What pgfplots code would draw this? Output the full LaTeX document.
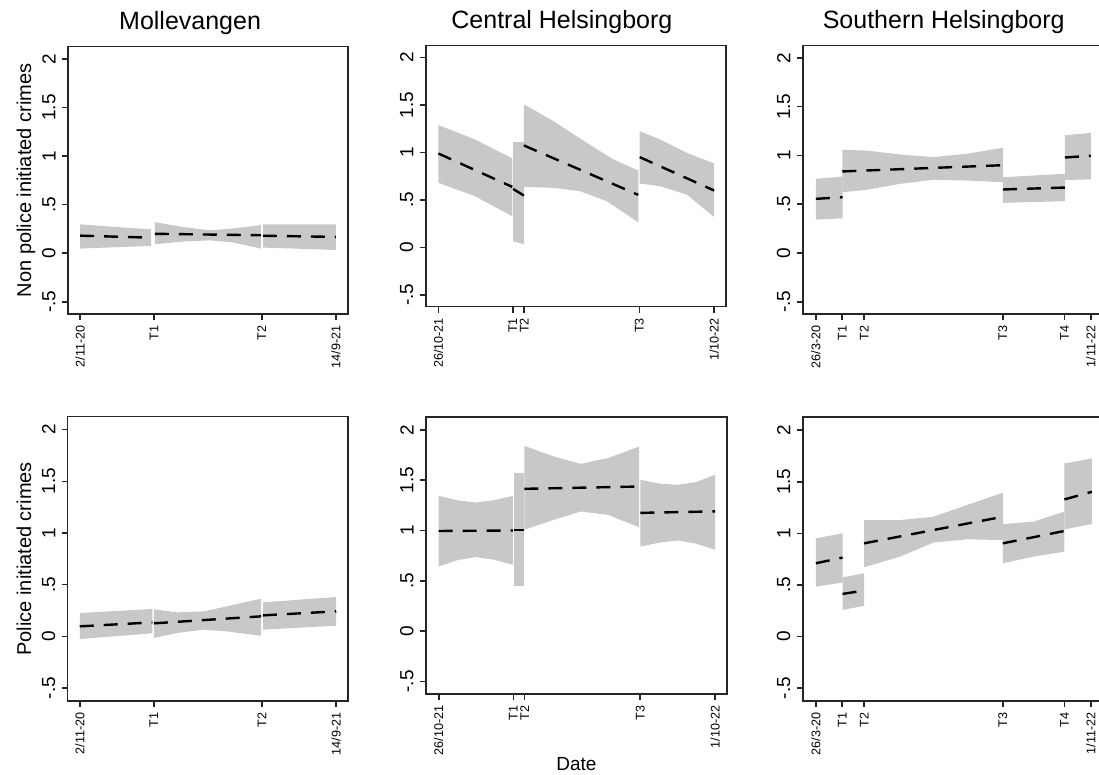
\documentclass[border=0pt]{standalone}
\usepackage{pgfplots}
\pgfplotsset{compat=1.18}
\usepackage{fontspec}
\setmainfont{Liberation Sans}
\definecolor{bandgray}{RGB}{200,200,200}
\pgfplotsset{
  panel/.style={
    scale only axis, anchor=south west,
    ymin=-0.625, ymax=2.125,
    ytick={-0.5,0,0.5,1,1.5,2},
    yticklabels={-.5,0,.5,1,1.5,2},
    tick align=outside, tickpos=left,
    major tick length=3pt,
    axis line style={black!85, line width=0.8pt},
    every tick/.style={black!85, line width=0.8pt},
    yticklabel shift=2pt, xticklabel shift=1.5pt,
    yticklabel style={rotate=90, anchor=south, font=\fontsize{9.5}{10}\selectfont, inner sep=1pt},
    xticklabel style={rotate=90, anchor=east, font=\fontsize{6.3}{7}\selectfont, inner sep=1pt},
    title style={anchor=base, font=\fontsize{12.5}{14}\selectfont, yshift=2.5pt},
    ylabel style={anchor=center, font=\fontsize{10}{12}\selectfont},
    axis on top,
    clip=false,
  },
  band/.style={fill=bandgray, draw=none},
  fit/.style={black, line width=1.2pt, dash pattern=on 7pt off 5pt},
}
\begin{document}
\begin{tikzpicture}
% ---------------- Top row: Non police initiated crimes ----------------
\begin{axis}[panel, at={(34pt,230.5pt)}, width=140pt, height=133.65pt,
  xmin=-4.7, xmax=104.7,
  xtick={0,28.9,71.0,100}, xticklabels={2/11-20,T1,T2,14/9-21},
  title={Mollevangen}, title style={at={(axis description cs:0.436,1)}},
  ylabel={Non police initiated crimes}, ylabel style={at={(axis description cs:-0.15,0.5)}}]
\addplot[band] coordinates {(0,0.298) (14,0.27) (27.8,0.246) (27.8,0.075) (14,0.062) (0,0.048)} -- cycle;
\addplot[band] coordinates {(29.2,0.32) (40,0.27) (50.8,0.236) (60,0.255) (70.7,0.29) (70.7,0.048) (60,0.11) (50.8,0.133) (40,0.12) (29.2,0.092)} -- cycle;
\addplot[band] coordinates {(71.4,0.298) (100,0.298) (100,0.034) (71.4,0.058)} -- cycle;
\addplot[fit] coordinates {(0,0.181) (27.8,0.16)};
\addplot[fit] coordinates {(29.2,0.20) (70.7,0.185)};
\addplot[fit] coordinates {(71.4,0.18) (100,0.168)};
\end{axis}

\begin{axis}[panel, at={(212.85pt,234.15pt)}, width=150pt, height=130.5pt,
  xmin=-4.6, xmax=104.2,
  xtick={0,27.0,31.1,72.9,100}, xticklabels={26/10-21,T1,T2,T3,1/10-22},
  title={Central Helsingborg}, title style={at={(axis description cs:0.454,1)}}]
\addplot[band] coordinates {(0,1.289) (13.3,1.137) (26.8,0.937) (26.8,0.327) (13.3,0.539) (0,0.68)} -- cycle;
\addplot[band] coordinates {(27.1,1.109) (31,1.109) (31,0.035) (27.1,0.063)} -- cycle;
\addplot[band] coordinates {(31,1.507) (41.7,1.331) (53.8,1.102) (63.5,0.926) (72.5,0.81) (72.5,0.264) (61.1,0.486) (51.4,0.592) (41.7,0.627) (31,0.637)} -- cycle;
\addplot[band] coordinates {(73,1.225) (80.4,1.137) (90.1,0.996) (100,0.884) (100,0.32) (90.1,0.556) (80.4,0.644) (73,0.673)} -- cycle;
\addplot[fit] coordinates {(0,0.989) (26.8,0.637)};
\addplot[fit] coordinates {(27.1,0.616) (31,0.546)};
\addplot[fit] coordinates {(31,1.074) (72.5,0.553)};
\addplot[fit] coordinates {(73,0.951) (100,0.599)};
\end{axis}

\begin{axis}[panel, at={(401.35pt,230.5pt)}, width=150.65pt, height=134.15pt,
  xmin=-4.8, xmax=104.8,
  xtick={0,9.6,17.6,68.0,90.4,100}, xticklabels={26/3-20,T1,T2,T3,T4,1/11-22},
  title={Southern Helsingborg}, title style={at={(axis description cs:0.468,1)}}]
\addplot[band] coordinates {(0,0.76) (9.7,0.784) (9.7,0.356) (0,0.342)} -- cycle;
\addplot[band] coordinates {(9.6,1.058) (18.4,1.05) (30.6,1.01) (42.7,0.983) (54.9,1.017) (68,1.079) (68,0.726) (54.9,0.743) (42.7,0.75) (30.6,0.709) (18.4,0.647) (9.6,0.623)} -- cycle;
\addplot[band] coordinates {(68,0.777) (90.6,0.812) (90.6,0.531) (68,0.514)} -- cycle;
\addplot[band] coordinates {(90.6,1.207) (100,1.231) (100,0.755) (90.6,0.748)} -- cycle;
\addplot[fit] coordinates {(0,0.555) (9.7,0.572)};
\addplot[fit] coordinates {(9.6,0.836) (68,0.90)};
\addplot[fit] coordinates {(68,0.651) (90.6,0.671)};
\addplot[fit] coordinates {(90.6,0.979) (100,0.997)};
\end{axis}

% ---------------- Bottom row: Police initiated crimes ----------------
\begin{axis}[panel, at={(33.85pt,37pt)}, width=140.3pt, height=142.15pt,
  xmin=-4.7, xmax=104.7,
  xtick={0,28.9,71.0,100}, xticklabels={2/11-20,T1,T2,14/9-21},
  ylabel={Police initiated crimes}, ylabel style={at={(axis description cs:-0.156,0.5)}}]
\addplot[band] coordinates {(0,0.226) (28.3,0.265) (28.3,0.03) (0,-0.026)} -- cycle;
\addplot[band] coordinates {(28.9,0.262) (37.8,0.232) (48.2,0.242) (57.3,0.29) (70.7,0.365) (70.7,0.006) (57.3,0.048) (48.2,0.065) (37.8,0.032) (28.9,-0.016)} -- cycle;
\addplot[band] coordinates {(71.4,0.329) (100,0.381) (100,0.103) (71.4,0.065)} -- cycle;
\addplot[fit] coordinates {(0,0.097) (28.3,0.135)};
\addplot[fit] coordinates {(28.9,0.126) (70.7,0.194)};
\addplot[fit] coordinates {(71.4,0.203) (100,0.242)};
\end{axis}

\begin{axis}[panel, at={(213pt,40.5pt)}, width=150.35pt, height=138.35pt,
  xmin=-4.6, xmax=104.2,
  xtick={0,27.0,31.1,72.9,100}, xticklabels={26/10-21,T1,T2,T3,1/10-22},
  xlabel={Date}, xlabel style={at={(axis description cs:0.5,0)}, anchor=base, yshift=-38.5pt, font=\fontsize{9.5}{11}\selectfont}]
\addplot[band] coordinates {(0,1.344) (6.7,1.30) (13.3,1.278) (20,1.30) (26.8,1.344) (26.8,0.659) (20,0.71) (13.3,0.735) (6.7,0.705) (0,0.642)} -- cycle;
\addplot[band] coordinates {(27.1,1.57) (31,1.57) (31,0.444) (27.1,0.444)} -- cycle;
\addplot[band] coordinates {(31,1.841) (41.7,1.735) (51.4,1.662) (61.1,1.719) (72.5,1.834) (72.5,1.033) (61.1,1.156) (51.4,1.189) (41.7,1.106) (31,1.007)} -- cycle;
\addplot[band] coordinates {(73,1.503) (80,1.465) (86.5,1.454) (93,1.48) (100,1.553) (100,0.808) (93,0.87) (86.5,0.901) (80,0.88) (73,0.841)} -- cycle;
\addplot[fit] coordinates {(0,0.995) (26.8,1.0)};
\addplot[fit] coordinates {(27.1,1.007) (31,1.007)};
\addplot[fit] coordinates {(31,1.414) (72.5,1.437)};
\addplot[fit] coordinates {(73,1.175) (100,1.19)};
\end{axis}

\begin{axis}[panel, at={(401.35pt,37pt)}, width=150.65pt, height=141.85pt,
  xmin=-4.8, xmax=104.8,
  xtick={0,9.6,17.6,68.0,90.4,100}, xticklabels={26/3-20,T1,T2,T3,T4,1/11-22}]
\addplot[band] coordinates {(0,0.952) (9.7,1.0) (9.7,0.523) (0,0.484)} -- cycle;
\addplot[band] coordinates {(9.7,0.574) (17.5,0.613) (17.5,0.297) (9.7,0.258)} -- cycle;
\addplot[band] coordinates {(17.5,1.129) (30.6,1.129) (42.7,1.161) (54.9,1.274) (68,1.394) (68,0.935) (54.9,0.942) (42.7,0.91) (30.6,0.774) (17.5,0.671)} -- cycle;
\addplot[band] coordinates {(68,1.09) (79.1,1.113) (90.4,1.21) (90.4,0.823) (79.1,0.774) (68,0.71)} -- cycle;
\addplot[band] coordinates {(90.4,1.677) (100.4,1.726) (100.4,1.09) (90.4,1.039)} -- cycle;
\addplot[fit] coordinates {(0,0.71) (9.7,0.765)};
\addplot[fit] coordinates {(9.7,0.413) (17.5,0.445)};
\addplot[fit] coordinates {(17.5,0.903) (68,1.161)};
\addplot[fit] coordinates {(68,0.903) (90.4,1.023)};
\addplot[fit] coordinates {(90.4,1.329) (100.4,1.403)};
\end{axis}

\pgfresetboundingbox
\path[use as bounding box] (0,0) rectangle (549.5pt,387.5pt);
\end{tikzpicture}
\end{document}
